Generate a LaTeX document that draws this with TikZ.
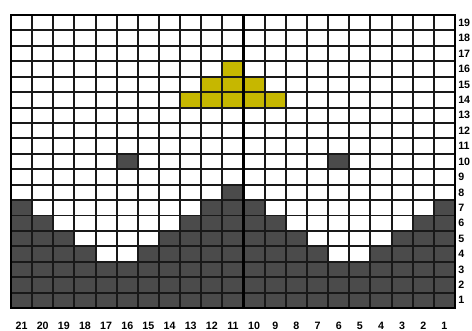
\documentclass[tikz,border=0pt]{standalone}
\usepackage{fontspec}
\setsansfont{Liberation Sans}
\usetikzlibrary{positioning, calc}

\definecolor{hill}{HTML}{4B4B4B}
\definecolor{sun}{HTML}{C6B700}

\tikzset{
  gridline/.style={black!90, line width=1.45pt},
  lbl/.style={font=\sffamily\bfseries\fontsize{8}{9}\selectfont, inner sep=0pt},
}

\begin{document}
\begin{tikzpicture}[x=0.75pt, y=0.75pt]

\useasboundingbox (0,0) rectangle (472,330);

\pgfmathsetmacro{\cw}{21.143}
\pgfmathsetmacro{\rh}{15.42}

\coordinate (O) at (11, 22);

% hills, one height per column from the left
\foreach \h [count=\i from 0] in {7,6,5,4,3,3,4,5,6,7,8,7,6,5,4,3,3,4,5,6,7}
  \fill[hill] ($(O)+(\i*\cw, 0)$) rectangle ++(\cw, \h*\rh);

% the two dots
\fill[hill] ($(O)+(5*\cw, 9*\rh)$) rectangle ++(\cw, \rh);
\fill[hill] ($(O)+(15*\cw, 9*\rh)$) rectangle ++(\cw, \rh);

% yellow peak
\fill[sun] ($(O)+(8*\cw, 13*\rh)$) rectangle ++(5*\cw, \rh);
\fill[sun] ($(O)+(9*\cw, 14*\rh)$) rectangle ++(3*\cw, \rh);
\fill[sun] ($(O)+(10*\cw, 15*\rh)$) rectangle ++(\cw, \rh);

% grid
\foreach \i in {1,...,20}
  \draw[gridline] ($(O)+(\i*\cw, 0)$) -- ++(0, 19*\rh);
\foreach \j in {1,...,18}
  \draw[gridline] ($(O)+(0, \j*\rh)$) -- ++(21*\cw, 0);

\draw[black, line width=2.2pt] ($(O)+(11*\cw, 0)$) -- ++(0, 19*\rh);
\draw[black, line width=2pt] (O) rectangle ++(21*\cw, 19*\rh);

% column numbers
\foreach \n in {1,...,21}
  \node[lbl] (c\n) at ($(O)+({(21.5-\n)*\cw}, -18)$) {\n};

% row numbers
\foreach \n in {1,...,19}
  \node[lbl, anchor=west] (r\n) at ($(O)+(447, {(\n-0.5)*\rh})$) {\n};

\end{tikzpicture}
\end{document}
